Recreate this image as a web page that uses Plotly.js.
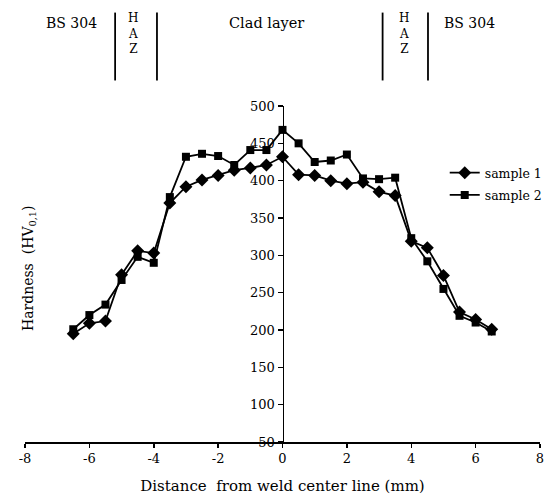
<!DOCTYPE html>
<html>
<head>
<meta charset="utf-8">
<script src="https://cdn.plot.ly/plotly-3.0.1.min.js"></script>
<style>html,body{margin:0;padding:0;background:#fff;}#chart{width:549px;height:496px;}</style>
</head>
<body>
<div id="chart"></div>
<script>
const distance = [-6.5,-6,-5.5,-5,-4.5,-4,-3.5,-3,-2.5,-2,-1.5,-1,-0.5,0,0.5,1,1.5,2,2.5,3,3.5,4,4.5,5,5.5,6,6.5];
const sample1 = [195,209,212,274,306,303,370,392,401,407,414,417,421,432,408,407,400,396,398,385,380,319,310,273,224,214,201];
const sample2 = [201,220,234,267,298,290,378,432,436,433,421,441,441,468,450,425,427,435,403,402,404,323,292,255,219,210,198];
const seriesNames = ["sample 1", "sample 2"];
const yTicks = [50,100,150,200,250,300,350,400,450,500];
const xTicks = [-8,-6,-4,-2,0,2,4,6,8];

const FONT = "DejaVu Serif, Liberation Serif, serif";

const traces = [
  {x: distance, y: sample1, name: seriesNames[0], mode: "lines+markers", legendgroup: "a",
   line: {color: "#000", width: 1.8},
   marker: {symbol: "diamond", size: 10, color: "#000"}},
  {x: distance, y: sample2, name: seriesNames[1], mode: "lines+markers", legendgroup: "b",
   line: {color: "#000", width: 1.8},
   marker: {symbol: "square", size: 8, color: "#000"}}
];

const layout = {
  width: 549, height: 496,
  margin: {l: 25, r: 9, t: 106, b: 54, autoexpand: false},
  paper_bgcolor: "#fff", plot_bgcolor: "#fff",
  font: {family: FONT, size: 13, color: "#000"},
  showlegend: true,
  legend: {x: 1.015, y: 0.845, xanchor: "right", yanchor: "top",
           font: {family: FONT, size: 12.5, color: "#000"},
           bgcolor: "rgba(0,0,0,0)", borderwidth: 0, tracegroupgap: 3, itemwidth: 30},
  xaxis: {range: [-8, 8], tickvals: xTicks, ticktext: xTicks.map(String),
          showgrid: false, zeroline: false, showline: true, linecolor: "#000", linewidth: 1.5,
          ticks: "outside", ticklen: 4, tickcolor: "#000", tickwidth: 1.5,
          tickfont: {family: FONT, size: 13},
          title: {text: "Distance  from weld center line (mm)", font: {family: FONT, size: 15}, standoff: 15}},
  yaxis: {range: [50, 500], tickvals: yTicks, ticktext: yTicks.map(String),
          anchor: "free", position: 0.5,
          showgrid: false, zeroline: false, showline: true, linecolor: "#000", linewidth: 1.5,
          ticks: "outside", ticklen: 5, tickcolor: "#000", tickwidth: 1.5,
          tickfont: {family: FONT, size: 13}},
  shapes: [-5.2, -3.9, 3.11, 4.52].map(v => ({type: "line", xref: "x", yref: "paper",
          x0: v, x1: v, y0: 1.076, y1: 1.278, line: {color: "#000", width: 1.8}})),
  annotations: [
    {text: "Hardness  (HV<sub>0,1</sub>)", xref: "paper", yref: "paper", x: 0.008, y: 0.518,
     xanchor: "center", yanchor: "middle",
     textangle: -90, showarrow: false, font: {family: FONT, size: 14}},
    {text: "BS 304", xref: "x", yref: "paper", x: -6.54, y: 1.247, xanchor: "center", yanchor: "middle", showarrow: false, font: {family: FONT, size: 14}},
    {text: "Clad layer", xref: "x", yref: "paper", x: -0.49, y: 1.247, xanchor: "center", yanchor: "middle", showarrow: false, font: {family: FONT, size: 14.5}},
    {text: "BS 304", xref: "x", yref: "paper", x: 5.82, y: 1.247, xanchor: "center", yanchor: "middle", showarrow: false, font: {family: FONT, size: 14}},
    {text: "H<br>A<br>Z", xref: "x", yref: "paper", x: -4.64, y: 1.215, xanchor: "center", yanchor: "middle", showarrow: false, font: {family: FONT, size: 12}},
    {text: "H<br>A<br>Z", xref: "x", yref: "paper", x: 3.8, y: 1.215, xanchor: "center", yanchor: "middle", showarrow: false, font: {family: FONT, size: 12}}
  ]
};

Plotly.newPlot("chart", traces, layout, {displayModeBar: false, staticPlot: true});
</script>
</body>
</html>
